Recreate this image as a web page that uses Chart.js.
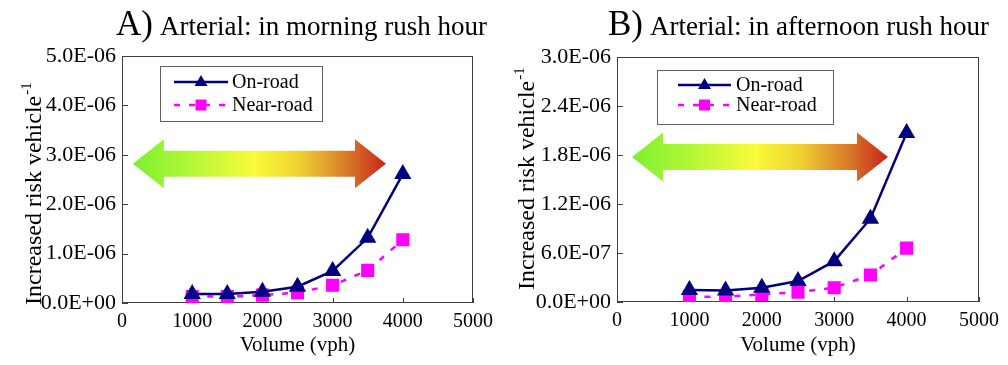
<!DOCTYPE html>
<html>
<head>
<meta charset="utf-8">
<script src="https://cdn.jsdelivr.net/npm/chart.js@4"></script>
<style>
  body { margin: 0; background: #fff; }
  .panel { position: absolute; top: 0; height: 365px; }
  .title { position: absolute; top: 4px; white-space: nowrap; font-family: "Liberation Serif", serif; color: #000; line-height: 40px; }
  .title .big { font-size: 35px; }
  .title .small { font-size: 27px; margin-left: 3px; }
  canvas { position: absolute; left: 0; top: 0; }
</style>
</head>
<body>
<div class="panel" style="left:0;width:500px">
  <canvas id="morning" width="500" height="365"></canvas>
  <div class="title" style="left:116px"><span class="big">A)</span> <span class="small">Arterial: in morning rush hour</span></div>
</div>
<div class="panel" style="left:500px;width:508px">
  <canvas id="afternoon" width="508" height="365"></canvas>
  <div class="title" style="left:108px"><span class="big">B)</span> <span class="small">Arterial: in afternoon rush hour</span></div>
</div>
<script>
// values
var volume = [1000, 1500, 2000, 2500, 3000, 3500, 4000];
var onRoadMorning = [1.8e-7, 1.8e-7, 2.3e-7, 3.3e-7, 6.5e-7, 1.32e-6, 2.61e-6];
var nearRoadMorning = [1.3e-7, 1.3e-7, 1.6e-7, 2.1e-7, 3.6e-7, 6.6e-7, 1.28e-6];
var onRoadAfternoon = [1.47e-7, 1.4e-7, 1.75e-7, 2.57e-7, 5.0e-7, 1.02e-6, 2.07e-6];
var nearRoadAfternoon = [6.5e-8, 6.5e-8, 9.4e-8, 1.2e-7, 1.75e-7, 3.3e-7, 6.6e-7];
var seriesNames = ["On-road", "Near-road"];
var xTicks = [0, 1000, 2000, 3000, 4000, 5000];
var yTicksMorning = [0, 1e-6, 2e-6, 3e-6, 4e-6, 5e-6];
var yTicksAfternoon = [0, 6e-7, 1.2e-6, 1.8e-6, 2.4e-6, 3e-6];

var SERIF = "'Liberation Serif', 'Times New Roman', serif";
var NAVY = '#000080', PINK = '#ff00ff';

function sci(v) {
  if (Math.abs(v) < 1e-12) return '0.0E+00';
  var s = v.toExponential(1).toUpperCase();
  return s.replace(/E([+-])(\d)$/, 'E$10$2');
}

function pts(ys) {
  return volume.map(function (x, i) { return {x: x, y: ys[i]}; });
}

// frame, tick marks, y title, arrow and legend
var decor = {
  id: 'decor',
  beforeDatasetsDraw: function (chart, args, o) {
    var ctx = chart.ctx, a = chart.chartArea;
    var xs = chart.scales.x, ys = chart.scales.y;
    ctx.save();
    // gradient arrow
    var x0 = xs.getPixelForValue(o.arrow.x0), x1 = xs.getPixelForValue(o.arrow.x1);
    var cy = ys.getPixelForValue(o.arrow.y);
    var hl = 31, hh = 24.5, sh = 13;
    var g = ctx.createLinearGradient(x0, 0, x1, 0);
    g.addColorStop(0, '#7cf030');
    g.addColorStop(0.25, '#b8f838');
    g.addColorStop(0.48, '#fafa3a');
    g.addColorStop(0.65, '#f0d432');
    g.addColorStop(0.85, '#d8782a');
    g.addColorStop(1, '#c82418');
    ctx.fillStyle = g;
    ctx.beginPath();
    ctx.moveTo(x0, cy);
    ctx.lineTo(x0 + hl, cy - hh);
    ctx.lineTo(x0 + hl, cy - sh);
    ctx.lineTo(x1 - hl, cy - sh);
    ctx.lineTo(x1 - hl, cy - hh);
    ctx.lineTo(x1, cy);
    ctx.lineTo(x1 - hl, cy + hh);
    ctx.lineTo(x1 - hl, cy + sh);
    ctx.lineTo(x0 + hl, cy + sh);
    ctx.lineTo(x0 + hl, cy + hh);
    ctx.closePath();
    ctx.fill();
    // frame
    ctx.strokeStyle = '#404040';
    ctx.lineWidth = 1;
    ctx.strokeRect(a.left + 0.5, a.top + 0.5, a.right - a.left - 1, a.bottom - a.top - 1);
    ctx.beginPath();
    ys.ticks.forEach(function (t) {
      var y = Math.round(ys.getPixelForValue(t.value)) + 0.5;
      ctx.moveTo(a.left, y); ctx.lineTo(a.left + 6, y);
    });
    xs.ticks.forEach(function (t) {
      var x = Math.round(xs.getPixelForValue(t.value)) + 0.5;
      ctx.moveTo(x, a.bottom); ctx.lineTo(x, a.bottom - 5);
    });
    ctx.stroke();
    // y title with superscript
    ctx.translate(o.ytitle.x, o.ytitle.y);
    ctx.rotate(-Math.PI / 2);
    ctx.fillStyle = '#000';
    ctx.textBaseline = 'alphabetic';
    ctx.font = '24px ' + SERIF;
    var main = 'Increased risk vehicle';
    var w = ctx.measureText(main).width;
    ctx.fillText(main, 0, 0);
    ctx.font = '15px ' + SERIF;
    ctx.fillText('-1', w + 1, -10);
    ctx.restore();
  },
  afterDatasetsDraw: function (chart, args, o) {
    var ctx = chart.ctx, b = o.legend;
    ctx.save();
    ctx.fillStyle = '#fff';
    ctx.fillRect(b.x1, b.y1, b.x2 - b.x1, b.y2 - b.y1);
    ctx.strokeStyle = '#606060';
    ctx.lineWidth = 1;
    ctx.strokeRect(b.x1 + 0.5, b.y1 + 0.5, b.x2 - b.x1, b.y2 - b.y1);
    chart.data.datasets.forEach(function (ds, i) {
      var y = b.rows[i];
      ctx.strokeStyle = ds.borderColor;
      ctx.lineWidth = 2.5;
      ctx.setLineDash(ds.borderDash || []);
      ctx.beginPath();
      ctx.moveTo(b.lx1, y); ctx.lineTo(b.lx2, y);
      ctx.stroke();
      ctx.setLineDash([]);
      ctx.fillStyle = ds.borderColor;
      var cx = (b.lx1 + b.lx2) / 2;
      if (ds.pointStyle === 'triangle') {
        ctx.beginPath();
        ctx.moveTo(cx, y - 7); ctx.lineTo(cx + 6.5, y + 4); ctx.lineTo(cx - 6.5, y + 4);
        ctx.closePath(); ctx.fill();
      } else {
        ctx.fillRect(cx - 5.5, y - 5.5, 11, 11);
      }
      ctx.fillStyle = '#000';
      ctx.font = '20px ' + SERIF;
      ctx.textBaseline = 'middle';
      ctx.fillText(ds.label, b.tx, y + 1);
    });
    ctx.restore();
  }
};

function makeChart(id, onRoad, nearRoad, yTicks, pad, deco) {
  var yMax = yTicks[yTicks.length - 1];
  return new Chart(document.getElementById(id), {
    type: 'line',
    data: {
      datasets: [{
        label: seriesNames[0],
        data: pts(onRoad),
        borderColor: NAVY, backgroundColor: NAVY,
        borderWidth: 2.5,
        pointStyle: 'triangle', pointRadius: 7.5, pointHoverRadius: 7.5,
        tension: 0
      }, {
        label: seriesNames[1],
        data: pts(nearRoad),
        borderColor: PINK, backgroundColor: PINK,
        borderWidth: 2.5, borderDash: [6, 9],
        pointStyle: 'rect', pointRadius: 7.5, pointHoverRadius: 7.5,
        tension: 0
      }]
    },
    options: {
      responsive: false,
      animation: false,
      layout: {padding: {top: pad.top, right: pad.right, left: 0, bottom: 0}},
      plugins: {
        legend: {display: false},
        tooltip: {enabled: false},
        decor: deco
      },
      scales: {
        x: {
          type: 'linear', min: 0, max: 5000,
          afterBuildTicks: function (s) { s.ticks = xTicks.map(function (v) { return {value: v}; }); },
          afterFit: function (s) { s.height = pad.bottom; },
          grid: {display: false, drawTicks: false},
          border: {display: false},
          ticks: {color: '#000', font: {family: SERIF, size: 20}, padding: 7, callback: function (v) { return String(v); }},
          title: {display: true, text: 'Volume (vph)', color: '#000', font: {family: SERIF, size: 21}, padding: {top: 0, bottom: 7}}
        },
        y: {
          min: 0, max: yMax,
          afterBuildTicks: function (s) { s.ticks = yTicks.map(function (v) { return {value: v}; }); },
          afterFit: function (s) { s.width = pad.left; },
          grid: {display: false, drawTicks: false},
          border: {display: false},
          ticks: {color: '#000', font: {family: SERIF, size: 22}, padding: 6, callback: function (v) { return sci(v); }}
        }
      }
    },
    plugins: [decor]
  });
}

makeChart('morning', onRoadMorning, nearRoadMorning, yTicksMorning,
  {top: 56, right: 23, left: 122, bottom: 62},
  {arrow: {x0: 155, x1: 3760, y: 2.82e-6},
   ytitle: {x: 41, y: 305},
   legend: {x1: 160, y1: 66, x2: 322, y2: 121, rows: [82, 105], lx1: 174, lx2: 228, tx: 232}});

makeChart('afternoon', onRoadAfternoon, nearRoadAfternoon, yTicksAfternoon,
  {top: 57, right: 29, left: 117, bottom: 63},
  {arrow: {x0: 207, x1: 3743, y: 1.775e-6},
   ytitle: {x: 34, y: 290},
   legend: {x1: 157, y1: 70, x2: 333, y2: 124, rows: [85, 105], lx1: 178, lx2: 231, tx: 236}});
</script>
</body>
</html>
